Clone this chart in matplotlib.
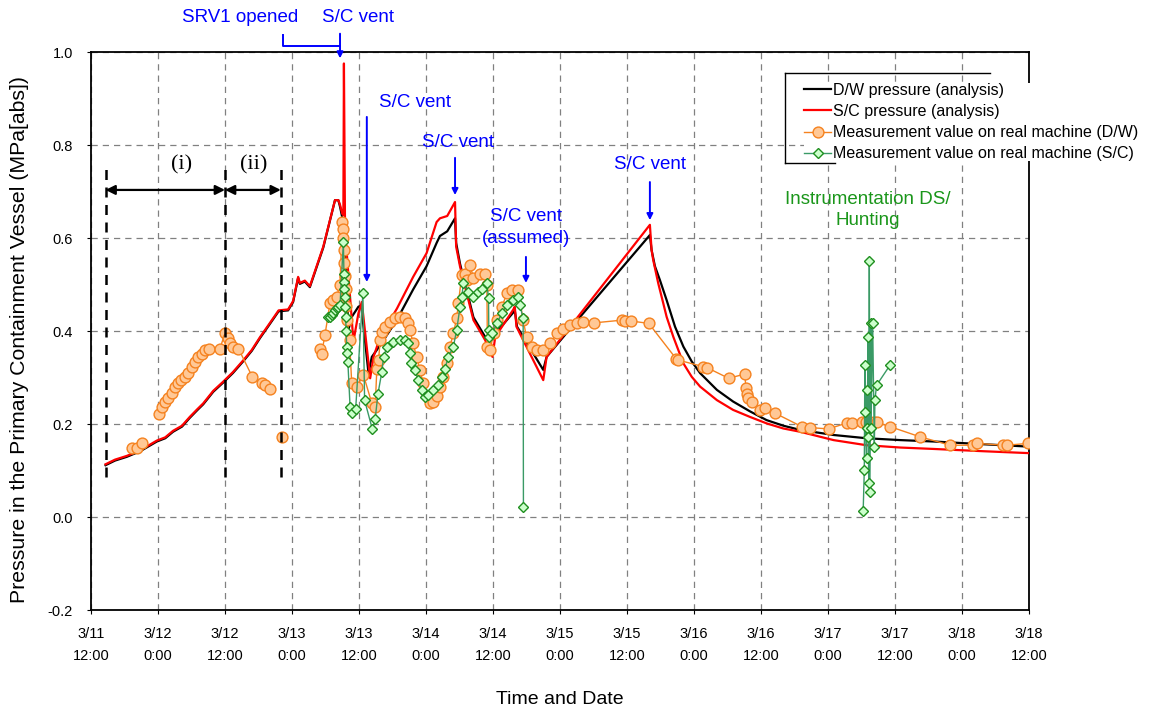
import matplotlib
matplotlib.use("Agg")
import matplotlib.pyplot as plt
import numpy as np

nan = np.nan

# hours after 3/11 12:00
tick_labels = ["3/11\n12:00", "3/12\n0:00", "3/12\n12:00", "3/13\n0:00", "3/13\n12:00",
               "3/14\n0:00", "3/14\n12:00", "3/15\n0:00", "3/15\n12:00", "3/16\n0:00",
               "3/16\n12:00", "3/17\n0:00", "3/17\n12:00", "3/18\n0:00", "3/18\n12:00"]

# D/W pressure (analysis)
dw_t = [2.6, 4.3, 6.4, 8.8, 11.8, 13.3, 14.7, 16.3, 17.7, 19.0, 20.1, 21.9, 23.7, 25.4,
        27.3, 28.8, 30.3, 31.7, 33.6, 35.3, 36.2, 37.1, 37.4, 38.3, 39.2, 41.6, 43.7, 44.3,
        44.6, 45.0, 45.3, 46.1, 46.7, 47.9, 48.4, 49.7, 50.3, 51.8, 54.8, 57.7, 60.1, 61.9,
        62.5, 63.8, 65.2, 65.4, 66.1, 68.5, 70.6, 72.4, 75.6, 75.9, 76.3, 81.0, 81.6, 87.6,
        100.1, 100.4, 101.0, 101.9, 103.1, 104.6, 106.1, 107.6, 109.1, 112.1, 115.0, 118.0,
        121.0, 124.0, 127.0, 133.0, 138.9, 145.0, 150.9, 160.0, 168.0]
dw_p = [0.112, 0.122, 0.130, 0.142, 0.163, 0.170, 0.184, 0.195, 0.214, 0.230, 0.243, 0.270,
        0.290, 0.310, 0.336, 0.358, 0.386, 0.410, 0.443, 0.445, 0.463, 0.515, 0.502, 0.507,
        0.495, 0.580, 0.682, 0.682, 0.668, 0.645, 0.620, 0.403, 0.431, 0.453, 0.455, 0.310,
        0.345, 0.370, 0.425, 0.490, 0.540, 0.590, 0.605, 0.615, 0.643, 0.590, 0.545, 0.430,
        0.388, 0.395, 0.440, 0.445, 0.410, 0.317, 0.345, 0.431, 0.607, 0.575, 0.540, 0.510,
        0.467, 0.410, 0.367, 0.335, 0.310, 0.274, 0.249, 0.228, 0.209, 0.197, 0.188, 0.177,
        0.170, 0.166, 0.163, 0.157, 0.152]

# S/C pressure (analysis)
sc_t = [2.6, 4.3, 6.4, 8.8, 11.8, 13.3, 14.7, 16.3, 17.7, 19.0, 20.1, 21.9, 23.7, 25.4,
        27.3, 28.8, 30.3, 31.7, 33.6, 35.3, 36.2, 37.1, 37.4, 38.3, 39.2, 41.6, 43.7, 44.3,
        44.6, 45.0, 45.2, 45.3, 45.5, 47.0, 47.9, 48.5, 50.0, 50.6, 51.8, 54.8, 57.7, 60.1,
        61.9, 62.5, 63.8, 65.2, 65.4, 66.1, 68.5, 70.6, 71.9, 72.4, 75.6, 75.9, 76.2, 81.0,
        81.6, 100.1, 100.4, 100.7, 101.6, 102.5, 103.1, 104.3, 106.1, 107.6, 109.1, 112.1,
        115.0, 118.0, 121.0, 124.0, 127.0, 133.0, 138.9, 145.0, 150.9, 160.0, 168.0]
sc_p = [0.114, 0.124, 0.132, 0.144, 0.165, 0.172, 0.186, 0.197, 0.216, 0.232, 0.245, 0.272,
        0.292, 0.312, 0.338, 0.360, 0.388, 0.412, 0.445, 0.447, 0.465, 0.517, 0.504, 0.509,
        0.497, 0.582, 0.682, 0.682, 0.672, 0.653, 0.650, 0.976, 0.617, 0.378, 0.439, 0.463,
        0.299, 0.345, 0.388, 0.449, 0.517, 0.568, 0.635, 0.643, 0.648, 0.678, 0.582, 0.539,
        0.424, 0.381, 0.345, 0.388, 0.446, 0.453, 0.410, 0.295, 0.345, 0.629, 0.575, 0.553,
        0.503, 0.460, 0.431, 0.388, 0.331, 0.302, 0.281, 0.252, 0.231, 0.216, 0.202, 0.191,
        0.184, 0.166, 0.155, 0.150, 0.147, 0.142, 0.138]

# Measurement value on real machine (D/W)
dwm_t = [7.3, 8.2, 9.1, nan,
         12.1, 12.7, 13.3, 13.8, 14.5, 15.0, 15.6, 16.2, 16.8, 17.4, 18.0, 18.6, 19.2, 19.8,
         20.4, 21.2, 23.1, 24.0, 24.6, 24.9, 25.5, 26.4, 28.9, 30.6, 31.2, 32.1, nan,
         34.2, nan,
         41.0, 41.3, 41.9, 42.8, 43.4, 44.0, 44.6, 45.0, 45.1, 45.2, 45.3, 45.4, 45.5, 45.6,
         45.7, 45.9, 46.3, 46.7, 47.6, 48.8, 50.3, 50.9, 51.2, 51.5, 51.8, 52.1, 52.7, 53.6,
         54.5, 55.3, 56.2, 56.8, 57.1, 57.7, 58.3, 58.9, 59.5, 60.1, 60.7, 61.3, 61.9, 62.5,
         63.1, 63.7, 64.3, 64.9, 65.5, 65.8, 66.4, 67.0, 67.3, 67.9, 68.5, 69.7, 70.6, 70.9,
         71.0, 71.5, 72.1, 72.7, 73.6, 74.5, 75.4, 76.5, 77.4, 78.0, 78.9, 79.8, 81.0, 82.2,
         83.4, 84.6, 85.8, 87.0, 88.2, 90.0, 95.1, 95.7, 96.8, 99.9, 104.8, 105.2, 109.7,
         110.3, 114.2, 117.1, 117.3, 117.5, 117.7, 118.3, 119.8, 120.7, 122.5, 127.3, 128.8,
         132.1, 135.4, 136.3, 138.1, 138.8, 139.5, 140.2, 140.7, 143.1, 148.5, 153.9, 158.0,
         158.6, 163.4, 164.0, 167.9]
dwm_p = [0.148, 0.150, 0.159, nan,
         0.223, 0.238, 0.249, 0.256, 0.268, 0.280, 0.288, 0.295, 0.302, 0.311, 0.324, 0.335,
         0.345, 0.352, 0.360, 0.362, 0.363, 0.396, 0.385, 0.374, 0.367, 0.363, 0.302, 0.288,
         0.285, 0.275, nan,
         0.173, nan,
         0.363, 0.352, 0.392, 0.460, 0.467, 0.474, 0.500, 0.636, 0.620, 0.600, 0.575, 0.546,
         0.520, 0.490, 0.455, 0.424, 0.381, 0.288, 0.281, 0.306, 0.245, 0.238, 0.320, 0.338,
         0.381, 0.399, 0.410, 0.421, 0.428, 0.430, 0.428, 0.417, 0.403, 0.374, 0.345, 0.317,
         0.288, 0.260, 0.245, 0.249, 0.260, 0.281, 0.302, 0.331, 0.367, 0.396, 0.428, 0.460,
         0.521, 0.524, 0.510, 0.543, 0.514, 0.524, 0.524, 0.500, 0.367, 0.360, 0.396, 0.424,
         0.453, 0.482, 0.489, 0.489, 0.424, 0.388, 0.367, 0.360, 0.360, 0.374, 0.396, 0.406,
         0.413, 0.417, 0.420, 0.418, 0.424, 0.422, 0.422, 0.417, 0.341, 0.338, 0.324, 0.322,
         0.299, 0.308, 0.277, 0.266, 0.256, 0.249, 0.231, 0.234, 0.224, 0.195, 0.193, 0.190,
         0.203, 0.203, 0.205, 0.204, 0.205, 0.205, 0.204, 0.195, 0.173, 0.155, 0.155, 0.159,
         0.155, 0.155, 0.159]

# Measurement value on real machine (S/C)
scm_t = [42.5, 42.8, 43.1, 43.4, 43.7, 44.0, 44.3, 44.6, 45.2, 45.3, 45.35, 45.4, 45.45,
         45.5, 45.6, 45.7, 45.8, 45.9, 46.0, 46.4, 46.7, 47.4, 48.7, 49.0, 50.4, 50.9, 51.4,
         52.1, 52.4, 53.0, 54.1, 55.3, 56.2, 56.8, 57.1, 57.4, 58.0, 58.6, 59.2, 59.8, 60.4,
         61.3, 62.2, 62.8, 63.4, 64.0, 64.9, 65.5, 66.1, 66.4, 66.7, 67.6, 68.5, 69.4, 70.0,
         70.9, 71.2, 71.25, 71.3, 71.8, 72.7, 73.6, 74.5, 75.6, 76.5, 76.8, 77.4, 77.45, nan,
         138.3, 138.5, 138.6, 138.7, 138.9, 138.9, 139.0, 139.2, 139.2, 139.3, 139.4, 139.5,
         139.7, 139.7, 140.0, 140.3, 140.4, 140.7, 143.1]
scm_p = [0.431, 0.431, 0.436, 0.440, 0.446, 0.450, 0.453, 0.457, 0.591, 0.524, 0.506, 0.492,
         0.474, 0.453, 0.431, 0.400, 0.367, 0.353, 0.335, 0.238, 0.224, 0.232, 0.482, 0.252,
         0.189, 0.212, 0.266, 0.313, 0.345, 0.367, 0.378, 0.381, 0.381, 0.374, 0.353, 0.331,
         0.317, 0.295, 0.273, 0.259, 0.262, 0.273, 0.284, 0.302, 0.320, 0.345, 0.367, 0.403,
         0.453, 0.474, 0.503, 0.485, 0.474, 0.485, 0.492, 0.503, 0.471, 0.403, 0.388, 0.396,
         0.417, 0.439, 0.457, 0.467, 0.474, 0.457, 0.428, 0.022, nan,
         0.014, 0.101, 0.327, 0.227, 0.127, 0.273, 0.193, 0.387, 0.173, 0.074, 0.551, 0.055,
         0.418, 0.191, 0.417, 0.152, 0.252, 0.284, 0.327]

# phase markers (i) / (ii)
phase_t = [2.6, 24.0, 34.0]

BLUE = "#0000ff"
plt.rcParams["font.family"] = ["Liberation Sans", "DejaVu Sans"]

fig = plt.figure(figsize=(11.51, 7.11), dpi=100)
ax = fig.add_axes([91 / 1151, 1 - 610.3 / 711, 938 / 1151, 558 / 711])

ax.plot(dw_t, dw_p, color="black", lw=1.6, zorder=3, label="D/W pressure (analysis)")
ax.plot(sc_t, sc_p, color="#ff0000", lw=1.6, zorder=4, label="S/C pressure (analysis)")
ax.plot(dwm_t, dwm_p, color="#f5821f", lw=1.0, marker="o", ms=7.8, mfc="#ffc896",
        mec="#f5821f", mew=1.0, zorder=5, label="Measurement value on real machine (D/W)")
ax.plot(scm_t, scm_p, color="#3a9a66", lw=1.0, marker="D", ms=5, mfc="#ccffcc",
        mec="#1f8f1f", mew=1.0, zorder=6, label="Measurement value on real machine (S/C)")

ax.set_xlim(0, 168)
ax.set_ylim(-0.2, 1.0)
ax.set_xticks(np.arange(0, 169, 12))
ax.set_xticklabels(tick_labels, linespacing=1.75)
ax.set_yticks(np.arange(-0.2, 1.01, 0.2))
ax.set_yticklabels([f"{v:.1f}" for v in np.arange(-0.2, 1.01, 0.2)])
ax.tick_params(axis="both", labelsize=10.5, length=3, width=0.8)
ax.tick_params(axis="x", pad=9)
ax.tick_params(axis="y", pad=10)
ax.grid(True, color="#808080", ls=(0, (5, 4)), lw=0.9)
for s in ax.spines.values():
    s.set_linewidth(1.3)
ax.set_xlabel("Time and Date", fontsize=14, labelpad=20)
ax.set_ylabel("Pressure in the Primary Containment Vessel (MPa[abs])", fontsize=15.3)
ax.yaxis.set_label_coords(-0.066, 0.486)

# phase markers
for t in phase_t:
    ax.plot([t, t], [0.087, 0.758], color="black", lw=1.8, ls=(0, (4, 3)), zorder=7)
for a, b in [(phase_t[0], phase_t[1]), (phase_t[1], phase_t[2])]:
    ax.annotate("", xy=(a, 0.704), xytext=(b, 0.704),
                arrowprops=dict(arrowstyle="<|-|>", color="black", lw=1.6,
                                mutation_scale=14, shrinkA=0, shrinkB=0), zorder=7)
ax.text(16.2, 0.758, "(i)", fontsize=16, family="Liberation Serif", ha="center", va="center")
ax.text(29.1, 0.758, "(ii)", fontsize=16, family="Liberation Serif", ha="center", va="center")

# event annotations
arr = dict(arrowstyle="-|>", color=BLUE, lw=1.4, mutation_scale=9, shrinkA=0, shrinkB=0)
ax.text(26.7, 1.074, "SRV1 opened", color=BLUE, fontsize=13.5, ha="center", va="center")
ax.text(47.8, 1.074, "S/C vent", color=BLUE, fontsize=13.5, ha="center", va="center")
ax.plot([34.3, 34.3, 44.6], [1.037, 1.014, 1.014], color=BLUE, lw=1.4, clip_on=False)
ax.annotate("", xy=(44.6, 0.987), xytext=(44.6, 1.040), arrowprops=arr, annotation_clip=False)

ax.text(58.0, 0.893, "S/C vent", color=BLUE, fontsize=13.5, ha="center", va="center")
ax.annotate("", xy=(49.4, 0.506), xytext=(49.4, 0.861), arrowprops=arr)
ax.text(65.7, 0.805, "S/C vent", color=BLUE, fontsize=13.5, ha="center", va="center")
ax.annotate("", xy=(65.2, 0.693), xytext=(65.2, 0.773), arrowprops=arr)
ax.text(77.9, 0.623, "S/C vent\n(assumed)", color=BLUE, fontsize=13.5, ha="center",
        va="center", linespacing=1.4)
ax.annotate("", xy=(77.9, 0.504), xytext=(77.9, 0.560), arrowprops=arr)
ax.text(100.1, 0.758, "S/C vent", color=BLUE, fontsize=13.5, ha="center", va="center")
ax.annotate("", xy=(100.1, 0.639), xytext=(100.1, 0.721), arrowprops=arr)
ax.text(139.2, 0.66, "Instrumentation DS/\nHunting", color="#1a961a", fontsize=13.5,
        ha="center", va="center", linespacing=1.3)

# legend (box in the original is only partly drawn)
leg = fig.legend(loc="upper left", bbox_to_anchor=(804 / 1151, 1 - 83 / 711),
                 fontsize=11.5, frameon=True, handlelength=1.7, handletextpad=0.1,
                 labelspacing=0.38, borderpad=0.0, borderaxespad=0)
leg.get_frame().set_facecolor("white")
leg.get_frame().set_edgecolor("none")
leg.get_frame().set_alpha(1)
fx = lambda x: x / 1151
fy = lambda y: 1 - y / 711
fig.add_artist(plt.Line2D([fx(785), fx(990)], [fy(73.3), fy(73.3)], color="black", lw=1.0))
fig.add_artist(plt.Line2D([fx(785), fx(785)], [fy(73.3), fy(163.3)], color="black", lw=1.0))
fig.add_artist(plt.Line2D([fx(785), fx(835)], [fy(163.3), fy(163.3)], color="black", lw=1.0))

fig.savefig("out.png", dpi=100)
